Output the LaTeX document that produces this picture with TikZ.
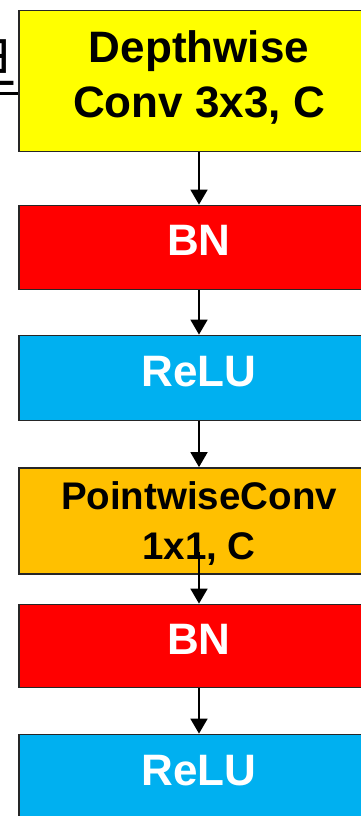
\documentclass[tikz,border=0pt]{standalone}
\usepackage{fontspec}
\setmainfont{Liberation Sans}
\newfontfamily\cjkfont{Noto Sans CJK SC}
\usetikzlibrary{positioning,calc,arrows.meta}
\definecolor{dwYellow}{RGB}{255,255,0}
\definecolor{bnRed}{RGB}{255,0,0}
\definecolor{reluBlue}{RGB}{0,176,240}
\definecolor{pwOrange}{RGB}{255,192,0}

\begin{document}
\begin{tikzpicture}[x=1pt, y=-1pt,
            layer/.style={rectangle, draw=black!85, line width=1.8pt, minimum width=360pt, align=center, inner sep=0pt, text depth=14pt, font=\fontsize{44}{55}\selectfont\bfseries},
            arrow/.style={-{Triangle[width=17pt,length=15pt]}, line width=1.8pt}
        ]
            \useasboundingbox (0,0) rectangle (361,816);
            % cut-off label on the left
            \node[anchor=east, inner sep=0pt, font=\cjkfont\fontsize{56}{56}\selectfont] (frag) at (18,63) {旦};
            \coordinate (fragline) at (0,93);

            \node[layer, fill=dwYellow, minimum height=141pt] (dw) at (199,81) {Depthwise\\Conv 3x3, C};
            \node[layer, fill=bnRed, text=white, minimum height=84pt] (bn1) at (199,247.5) {BN};
            \node[layer, fill=reluBlue, text=white, minimum height=85pt] (relu1) at (199,378) {ReLU};
            \node[layer, fill=pwOrange, minimum height=106pt, text depth=0pt, font=\fontsize{38.5}{50}\selectfont\bfseries] (pw) at (199,521) {PointwiseConv\\1x1, C};
            \node[layer, fill=bnRed, text=white, minimum height=83pt] (bn2) at (199,646) {BN};
            \node[layer, fill=reluBlue, text=white, minimum height=85pt] (relu2) at (199,777) {ReLU};
            \coordinate (pwtail) at ($(pw.south)+(0pt,23pt)$);

            \draw[line width=3pt] (fragline) -- (fragline -| dw.west);
            \draw[arrow] (dw) -- (bn1);
            \draw[arrow] (bn1) -- (relu1);
            \draw[arrow] (relu1) -- (pw);
            \draw[arrow] (pwtail) -- (bn2);
            \draw[arrow] (bn2) -- (relu2);
        \end{tikzpicture}
\end{document}
